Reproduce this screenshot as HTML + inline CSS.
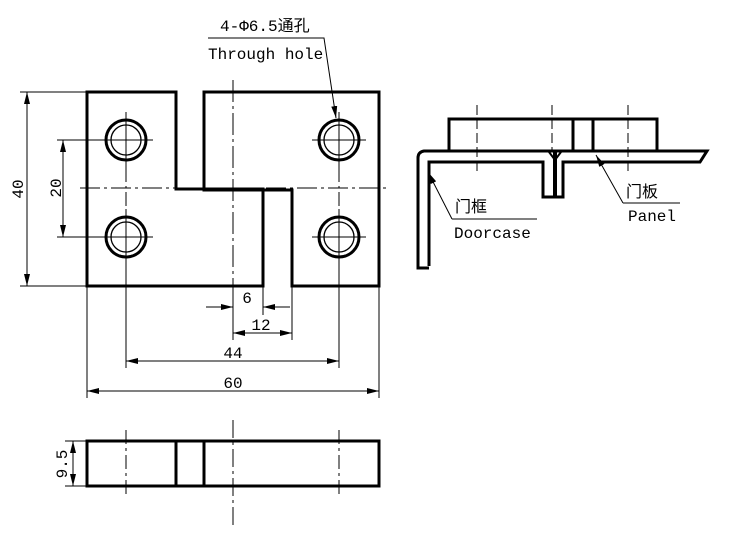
<!DOCTYPE html>
<html><head><meta charset="utf-8"><style>
html,body{margin:0;padding:0;background:#fff;}
svg{display:block;}
text{font-family:"Liberation Mono","Noto Sans CJK SC",monospace;font-size:16px;fill:#000;}
</style></head><body>
<svg width="732" height="545" viewBox="0 0 732 545" xmlns="http://www.w3.org/2000/svg">
<defs>
<marker id="a" viewBox="0 0 12 6" refX="12" refY="3" markerWidth="12" markerHeight="6" markerUnits="userSpaceOnUse" orient="auto-start-reverse"><path d="M0,0 L12,3 L0,6 z" fill="#000"/></marker>
</defs>
<g fill="none" stroke="#000">
<!-- main view outline -->
<path d="M87,92 H176 V189 H263 V286 H87 Z" stroke-width="3"/>
<path d="M204,92 H379 V286 H292 V190 H204 Z" stroke-width="3"/>
<!-- holes -->
<g stroke-width="3">
<circle cx="126" cy="140" r="20"/><circle cx="126" cy="237" r="20"/>
<circle cx="339" cy="140" r="20"/><circle cx="339" cy="237" r="20"/>
</g>
<g stroke-width="1.3">
<circle cx="126" cy="140" r="15"/><circle cx="126" cy="237" r="15"/>
<circle cx="339" cy="140" r="15"/><circle cx="339" cy="237" r="15"/>
</g>
<!-- crosshairs -->
<g stroke-width="1">
<path d="M99,140 H153 M312,140 H366 M99,237 H153 M312,237 H366"/>
<path d="M126,112 V168 M126,209 V265 M339,112 V168 M339,209 V265"/>
<path d="M126,168 V209 M339,168 V209" stroke-dasharray="14,4,2,4"/>
<path d="M80,188 H387" stroke-dasharray="20,4,3,4"/>
<path d="M233,80 V330" stroke-dasharray="22,4,3,4"/>
</g>
<!-- dims left -->
<g stroke-width="1">
<path d="M20,92 H87 M20,286 H87 M57,140 H106 M57,237 H106"/>
<path d="M27,92 V286" marker-start="url(#a)" marker-end="url(#a)"/>
<path d="M63,140 V237" marker-start="url(#a)" marker-end="url(#a)"/>
<!-- bottom dims -->
<path d="M233,286 V340 M263,286 V315 M292,286 V340 M126,265 V368 M339,265 V368 M87,286 V398 M379,286 V398"/>
<path d="M206,307 H233" marker-end="url(#a)"/>
<path d="M290,307 H263" marker-end="url(#a)"/>
<path d="M233,333 H292" marker-start="url(#a)" marker-end="url(#a)"/>
<path d="M126,361 H339" marker-start="url(#a)" marker-end="url(#a)"/>
<path d="M87,391 H379" marker-start="url(#a)" marker-end="url(#a)"/>
<!-- leader -->
<path d="M208,38 H324 L336,118" marker-end="url(#a)"/>
</g>
<!-- bottom view -->
<rect x="87" y="441" width="292" height="45" stroke-width="3"/>
<path d="M176,441 V486 M204,441 V486" stroke-width="3"/>
<g stroke-width="1">
<path d="M126,430 V498 M339,430 V498" stroke-dasharray="14,4,3,4"/>
<path d="M233,420 V525" stroke-dasharray="18,4,3,4"/>
<path d="M65,441 H87 M65,486 H87"/>
<path d="M73,441 V486" marker-start="url(#a)" marker-end="url(#a)"/>
</g>
<!-- right view -->
<path d="M449,151 V119 H657 V151 M573,119 V151 M593,119 V151" stroke-width="3"/>
<path d="M429,266 V162 H543 V197 H563 V162 H700 L707,151 H424 Q418,152 418,158 V268 H429" stroke-width="3"/>
<path d="M555,152 V197" stroke-width="4"/>
<path d="M549,152 L555,160 L561,152" stroke-width="2"/>
<g stroke-width="1" stroke-dasharray="10,4">
<path d="M477,105 V175 M628,105 V175 M552,105 V150"/>
</g>
<g stroke-width="1">
<path d="M452,219 H537 M452,219 L428,172" marker-end="url(#a)"/>
<path d="M623,203 H680 M623,203 L596,155" marker-end="url(#a)"/>
</g>
</g>
<text x="220" y="31">4-Φ6.5通孔</text>
<text x="208" y="59">Through hole</text>
<text x="455" y="212">门框</text>
<text x="454" y="238">Doorcase</text>
<text x="626" y="197">门板</text>
<text x="628" y="221">Panel</text>
<g text-anchor="middle">
<text x="247" y="303">6</text>
<text x="261" y="330">12</text>
<text x="233" y="358">44</text>
<text x="233" y="388">60</text>
<text transform="translate(23,189) rotate(-90)">40</text>
<text transform="translate(61,188) rotate(-90)">20</text>
<text transform="translate(67,464) rotate(-90)">9.5</text>
</g>
</svg>
</body></html>
